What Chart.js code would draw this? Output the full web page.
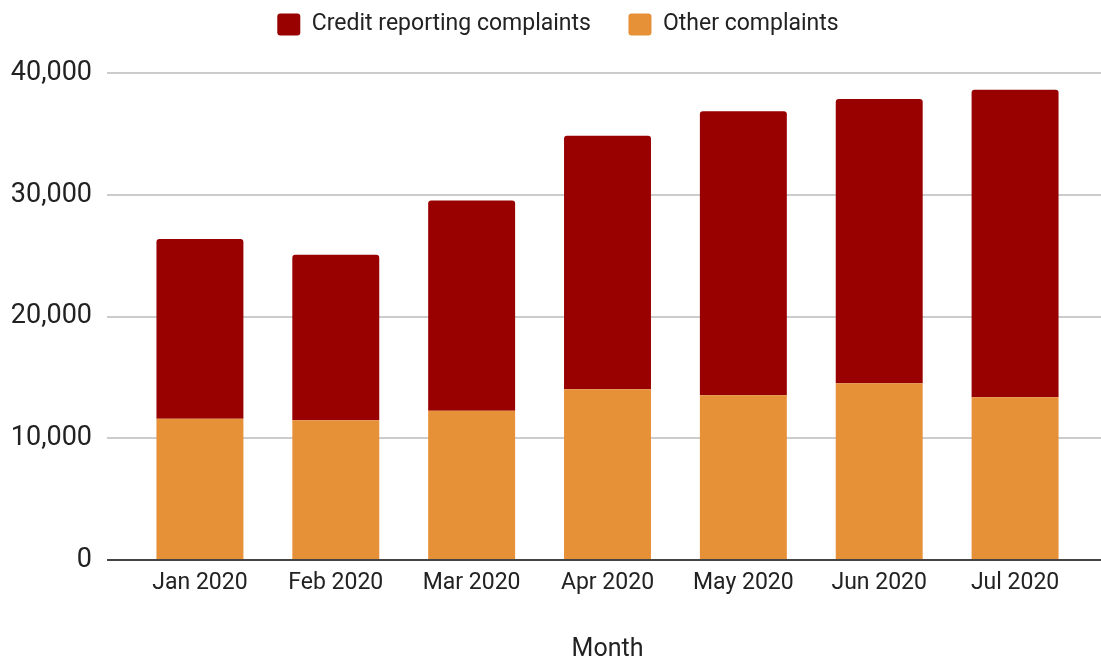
<!DOCTYPE html>
<html>
<head>
<meta charset="utf-8">
<script src="https://cdn.jsdelivr.net/npm/chart.js@4/dist/chart.umd.min.js"></script>
<style>
  html, body { margin: 0; padding: 0; background: #fff; }
  #wrap { width: 1101px; height: 660px; position: relative; }
</style>
</head>
<body>
<div id="wrap"><canvas id="c" width="1101" height="660"></canvas></div>
<script>
const months = ['Jan 2020', 'Feb 2020', 'Mar 2020', 'Apr 2020', 'May 2020', 'Jun 2020', 'Jul 2020'];
const otherComplaints = [11610, 11480, 12250, 14030, 13540, 14520, 13370];
const creditComplaints = [14750, 13590, 17280, 20820, 23320, 23350, 25260];
const yTicks = [0, 10000, 20000, 30000, 40000];
const xAxisTitle = 'Month';

const FONT = 'Roboto';

// Extended gridlines (span beyond the category area, like the reference)
const gridExt = {
  id: 'gridExt',
  beforeDatasetsDraw(chart) {
    const y = chart.scales.y, ctx = chart.ctx;
    ctx.save();
    ctx.lineWidth = 2;
    ctx.strokeStyle = '#cccccc';
    y.ticks.forEach(t => {
      if (t.value === 0) return;
      const py = Math.round(y.getPixelForValue(t.value));
      ctx.beginPath();
      ctx.moveTo(107, py);
      ctx.lineTo(1101, py);
      ctx.stroke();
    });
    ctx.restore();
  },
  afterDatasetsDraw(chart) {
    const y = chart.scales.y, ctx = chart.ctx;
    ctx.save();
    ctx.lineWidth = 2;
    ctx.strokeStyle = '#444444';
    const py = Math.round(y.getPixelForValue(0));
    ctx.beginPath();
    ctx.moveTo(107, py);
    ctx.lineTo(1101, py);
    ctx.stroke();
    ctx.restore();
  }
};

// Control legend height and placement
const legendFit = {
  id: 'legendFit',
  beforeInit(chart) {
    const orig = chart.legend.fit;
    chart.legend.fit = function () {
      orig.call(this);
      this.height = 73;
    };
  },
  afterLayout(chart) {
    const lg = chart.legend;
    lg.top -= 24.5;
    lg.bottom -= 24.5;
    lg.left += 16.5;
    lg.right += 16.5;
  }
};

new Chart(document.getElementById('c'), {
  type: 'bar',
  data: {
    labels: months,
    datasets: [
      {
        label: 'Other complaints',
        data: otherComplaints,
        backgroundColor: '#e69138',
        borderWidth: 0,
        stack: 's'
      },
      {
        label: 'Credit reporting complaints',
        data: creditComplaints,
        backgroundColor: '#990000',
        borderWidth: 0,
        borderRadius: { topLeft: 3, topRight: 3, bottomLeft: 0, bottomRight: 0 },
        borderSkipped: false,
        stack: 's'
      }
    ]
  },
  options: {
    responsive: false,
    animation: false,
    devicePixelRatio: 1,
    layout: { padding: { top: 0, right: 18, bottom: 0, left: 0 } },
    categoryPercentage: 1,
    barPercentage: 0.64,
    plugins: {
      legend: {
        reverse: true,
        position: 'top',
        labels: {
          font: { family: FONT, size: 23 },
          color: '#222222',
          boxWidth: 23,
          boxHeight: 22,
          useBorderRadius: true,
          borderRadius: 3,
          padding: 37.5
        }
      },
      tooltip: { enabled: false }
    },
    scales: {
      x: {
        stacked: true,
        grid: { display: false, drawTicks: false },
        border: { display: false },
        ticks: {
          font: { family: FONT, size: 23 },
          color: '#222222',
          padding: 9,
          maxRotation: 0
        },
        title: {
          display: true,
          text: xAxisTitle,
          font: { family: FONT, size: 25 },
          color: '#222222',
          padding: { top: 0, bottom: -5 }
        },
        afterFit(scale) { scale.height = 100; }
      },
      y: {
        stacked: true,
        min: 0,
        max: 40000,
        grid: { display: false, drawTicks: false },
        border: { display: false },
        afterBuildTicks(scale) { scale.ticks = yTicks.map(v => ({ value: v })); },
        ticks: {
          font: { family: FONT, size: 27 },
          color: '#222222',
          padding: 40,
          callback: v => v.toLocaleString('en-US')
        },
        afterFit(scale) { scale.width = 132; }
      }
    }
  },
  plugins: [gridExt, legendFit]
});
</script>
</body>
</html>
